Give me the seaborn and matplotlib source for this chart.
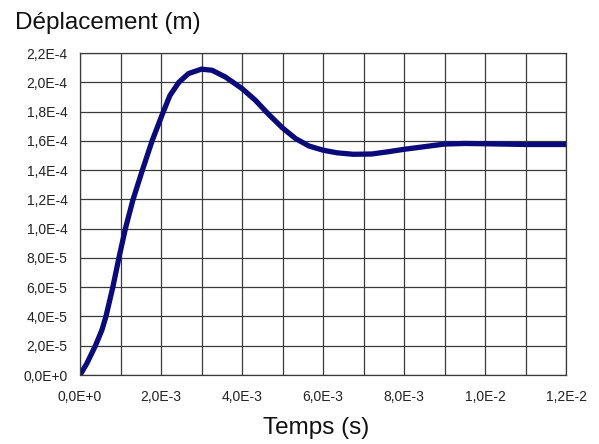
import matplotlib
matplotlib.use('Agg')
import matplotlib.pyplot as plt
from matplotlib.ticker import MultipleLocator, FuncFormatter
import pandas as pd
import seaborn as sns

# temps (s) et déplacement (m)
temps = [0.0, 0.17e-3, 0.38e-3, 0.54e-3, 0.64e-3, 0.81e-3, 0.96e-3, 1.12e-3,
         1.31e-3, 1.54e-3, 1.66e-3, 1.78e-3, 2.03e-3, 2.22e-3, 2.44e-3, 2.68e-3,
         3.0e-3, 3.26e-3, 3.59e-3, 4.0e-3, 4.33e-3, 4.66e-3, 5.0e-3, 5.32e-3,
         5.65e-3, 6.0e-3, 6.35e-3, 6.75e-3, 7.2e-3, 7.6e-3, 8.0e-3, 8.5e-3,
         9.0e-3, 9.5e-3, 1.0e-2, 1.1e-2, 1.2e-2]
deplacement = [0.0, 0.8e-5, 2.0e-5, 3.07e-5, 4.0e-5, 6.0e-5, 8.0e-5, 10.0e-5,
               12.0e-5, 14.0e-5, 15.0e-5, 16.0e-5, 17.8e-5, 19.1e-5, 20.0e-5, 20.6e-5,
               20.9e-5, 20.82e-5, 20.36e-5, 19.57e-5, 18.77e-5, 17.8e-5, 16.88e-5, 16.16e-5,
               15.65e-5, 15.36e-5, 15.18e-5, 15.08e-5, 15.1e-5, 15.25e-5, 15.42e-5, 15.6e-5,
               15.78e-5, 15.82e-5, 15.8e-5, 15.75e-5, 15.75e-5]

titre_y = 'Déplacement (m)'
titre_x = 'Temps (s)'


def fmt_sci(v, pos):
    s = '{:.1E}'.format(v)
    mant, exp = s.split('E')
    e = int(exp)
    return mant.replace('.', ',') + 'E' + ('+' if e >= 0 else '-') + str(abs(e))


sns.set_style('white')
plt.rcParams['font.family'] = ['Liberation Sans', 'DejaVu Sans']

df = pd.DataFrame({'t': temps, 'x': deplacement})

fig = plt.figure(figsize=(5.99, 4.44), dpi=100)
ax = fig.add_axes([0.1336, 0.1554, 0.8114, 0.7252])

sns.lineplot(data=df, x='t', y='x', ax=ax, color='#0a0a7a', linewidth=3.8,
             solid_capstyle='round', solid_joinstyle='round')

ax.set_xlim(0, 0.012)
ax.set_ylim(0, 2.2e-4)
ax.xaxis.set_major_locator(MultipleLocator(2e-3))
ax.xaxis.set_minor_locator(MultipleLocator(1e-3))
ax.yaxis.set_major_locator(MultipleLocator(2e-5))
ax.xaxis.set_major_formatter(FuncFormatter(fmt_sci))
ax.yaxis.set_major_formatter(FuncFormatter(fmt_sci))

ax.grid(True, which='both', color='#3a3a3a', linewidth=0.9)
ax.set_axisbelow(True)
ax.tick_params(axis='both', which='major', direction='out', length=5, width=0.9,
               color='#3a3a3a', labelsize=10, labelcolor='#222222', pad=4)
ax.tick_params(axis='x', which='minor', length=0)
ax.tick_params(axis='x', which='major', pad=6)
for sp in ax.spines.values():
    sp.set_color('#3a3a3a')
    sp.set_linewidth(0.9)

ax.set_xlabel('')
ax.set_ylabel('')
fig.text(0.025, 0.948, titre_y, fontsize=17.5, color='#111111', ha='left', va='center')
fig.text(0.528, 0.036, titre_x, fontsize=17.5, color='#111111', ha='center', va='center')

fig.savefig('out.png', dpi=100)
